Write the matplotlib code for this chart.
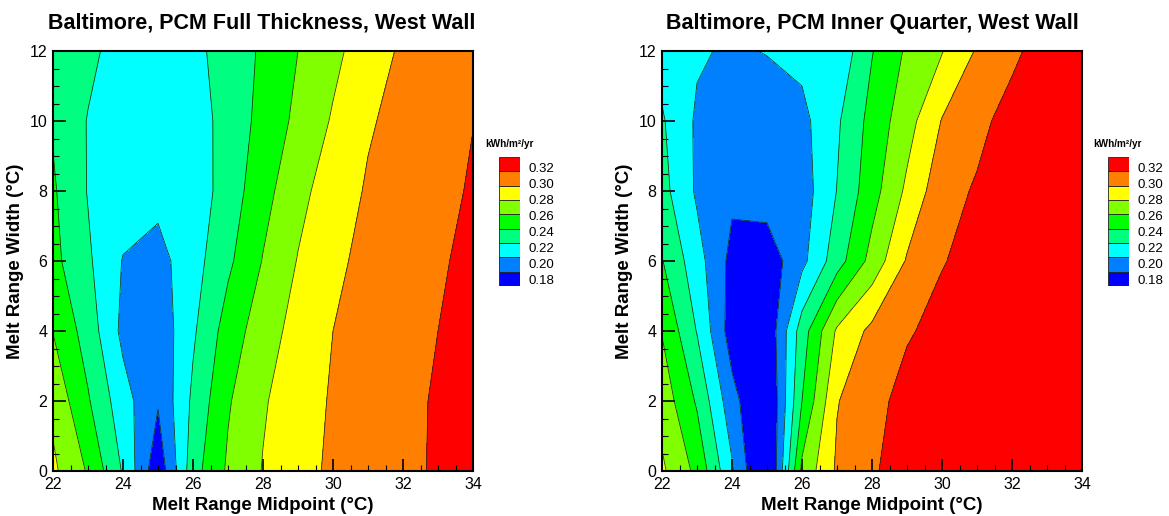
import numpy as np
import matplotlib
matplotlib.use("Agg")
import matplotlib.pyplot as plt
from matplotlib.ticker import MultipleLocator

plt.rcParams['font.family'] = ['Liberation Sans', 'DejaVu Sans']

# grid of the simulations
midpoint = [22, 23, 24, 25, 26, 27, 28, 29, 30, 31, 32, 33, 34]
width = [0, 2, 4, 6, 8, 10, 12]

# annual energy, kWh/m2/yr, one row per melt range width
full_thickness = [
    [0.284, 0.258, 0.218, 0.165, 0.232, 0.263, 0.281, 0.294, 0.303, 0.309, 0.316, 0.322, 0.328],
    [0.275, 0.242, 0.208, 0.182, 0.224, 0.258, 0.278, 0.291, 0.302, 0.309, 0.315, 0.322, 0.328],
    [0.2595, 0.231, 0.195, 0.186, 0.217, 0.249, 0.271, 0.287, 0.300, 0.307, 0.313, 0.320, 0.3265],
    [0.2456, 0.223, 0.199, 0.193, 0.212, 0.236, 0.261, 0.281, 0.296, 0.305, 0.311, 0.318, 0.324],
    [0.2425, 0.219, 0.210, 0.206, 0.208, 0.229, 0.253, 0.274, 0.290, 0.302, 0.309, 0.315, 0.3218],
    [0.238, 0.219, 0.209, 0.208, 0.2095, 0.228, 0.246, 0.265, 0.282, 0.298, 0.306, 0.313, 0.3197],
    [0.235, 0.225, 0.211, 0.209, 0.2146, 0.2285, 0.243, 0.260, 0.275, 0.2905, 0.303, 0.3095, 0.316],
]
inner_quarter = [
    [0.2834, 0.255, 0.2028, 0.149, 0.265, 0.303, 0.318, 0.328, 0.334, 0.339, 0.343, 0.346, 0.349],
    [0.272, 0.2375, 0.187, 0.155, 0.240, 0.299, 0.3134, 0.327, 0.331, 0.337, 0.342, 0.346, 0.349],
    [0.259, 0.219, 0.170, 0.163, 0.230, 0.283, 0.305, 0.318, 0.326, 0.333, 0.338, 0.342, 0.345],
    [0.241, 0.208, 0.174, 0.168, 0.1946, 0.231, 0.267, 0.302, 0.319, 0.326, 0.332, 0.336, 0.339],
    [0.2269, 0.197, 0.184, 0.190, 0.190, 0.2205, 0.252, 0.284, 0.313, 0.322, 0.329, 0.334, 0.337],
    [0.2223, 0.197, 0.188, 0.187, 0.1944, 0.217, 0.247, 0.272, 0.301, 0.315, 0.327, 0.331, 0.335],
    [0.212, 0.2025, 0.197, 0.201, 0.2056, 0.204, 0.239, 0.263, 0.279, 0.302, 0.316, 0.329, 0.334],
]

titles = ["Baltimore, PCM Full Thickness, West Wall",
          "Baltimore, PCM Inner Quarter, West Wall"]
levels = [0.18, 0.20, 0.22, 0.24, 0.26, 0.28, 0.30, 0.32]
band_colors = ['#0000ff', '#0080ff', '#00ffff', '#00ff80', '#00ff00',
               '#80ff00', '#ffff00', '#ff8000', '#ff0000']

W, H = 1169, 516


def px(x0, y0, w, h):
    # pixel box (from top-left) -> figure fraction
    return [x0 / W, 1 - (y0 + h) / H, w / W, h / H]


fig = plt.figure(figsize=(W / 100, H / 100), dpi=100)

X, Y = np.meshgrid(midpoint, width)
panels = [(full_thickness, 53, 499, 262), (inner_quarter, 662, 1108, 872)]

for (data, ax_left, leg_left, title_x), title in zip(panels, titles):
    Z = np.array(data)
    ax = fig.add_axes(px(ax_left, 51, 420, 420))
    ax.contourf(X, Y, Z, levels=[0.0] + levels + [1.0], colors=band_colors)
    ax.contour(X, Y, Z, levels=levels, colors='#1c2c1c', linewidths=0.55)
    ax.set_xlim(22, 34)
    ax.set_ylim(0, 12)
    ax.xaxis.set_major_locator(MultipleLocator(2))
    ax.yaxis.set_major_locator(MultipleLocator(2))
    ax.xaxis.set_minor_locator(MultipleLocator(0.5))
    ax.yaxis.set_minor_locator(MultipleLocator(0.5))
    ax.tick_params(which='both', direction='in', top=False, right=False,
                   labelsize=11.5, width=1.2)
    ax.tick_params(which='major', length=9, pad=4)
    ax.tick_params(which='minor', length=4, width=0.8)
    for s in ax.spines.values():
        s.set_linewidth(1.5)
    ax.set_xlabel("Melt Range Midpoint (°C)", fontsize=13.5, fontweight='bold')
    ax.set_ylabel("Melt Range Width (°C)", fontsize=13.5, fontweight='bold')
    ax.xaxis.set_label_coords(0.5, -0.062)
    ax.yaxis.set_label_coords(-0.07, 0.5)

    fig.text(title_x / W, 1 - 23 / H, title, ha='center', va='center',
             fontsize=15.5, fontweight='bold')

    # legend boxes
    lg = fig.add_axes(px(leg_left, 157, 21, 129))
    for i, c in enumerate(band_colors):
        lg.bar(0.5, 1, bottom=i, width=1, color=c, edgecolor='#202020', linewidth=0.6)
    lg.set_xlim(0, 1)
    lg.set_ylim(0, len(band_colors))
    lg.axis('off')
    for i, lev in enumerate(levels):
        lg.text(1.4, 0.37 + i * 1.11, f"{lev:.2f}", ha='left', va='center',
                fontsize=9.5, transform=lg.transData, clip_on=False)
    fig.text((leg_left + 10) / W, 1 - 144 / H, "kWh/m²/yr", ha='center',
             va='center', fontsize=7.2, fontweight='bold')

fig.savefig("out.png", dpi=100)
